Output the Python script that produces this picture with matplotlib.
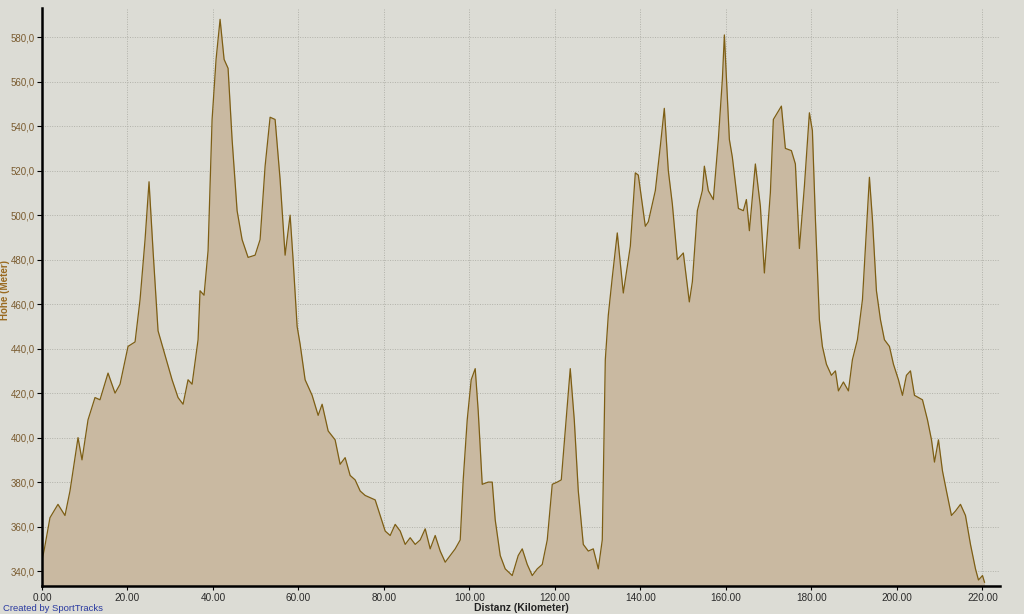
import matplotlib
matplotlib.use("Agg")
import matplotlib.pyplot as plt
from matplotlib.ticker import FuncFormatter

# Höhenprofil: Distanz (km) / Höhe (m)
distanz = [0.0, 0.47, 1.87, 3.74, 5.38, 6.55, 8.43, 9.36, 10.77, 12.40, 13.57, 15.45, 17.09,
           18.26, 20.13, 21.77, 22.94, 24.11, 25.04, 25.98, 27.15, 28.79, 30.43, 31.83, 33.00,
           34.17, 35.11, 36.51, 36.98, 37.91, 38.85, 39.79, 40.72, 41.66, 42.60, 43.53, 44.47,
           45.64, 46.81, 48.21, 49.85, 51.02, 52.19, 53.36, 54.53, 55.70, 56.87, 58.04, 58.74,
           59.68, 60.38, 61.55, 63.19, 64.60, 65.53, 66.94, 68.57, 69.74, 70.91, 72.08, 73.25,
           74.43, 75.60, 76.77, 77.94, 79.11, 80.28, 81.45, 82.62, 83.79, 84.96, 86.13, 87.30,
           88.47, 89.64, 90.81, 91.98, 93.15, 94.32, 95.49, 96.66, 97.83, 98.53, 99.47, 100.40,
           101.34, 102.04, 102.98, 104.38, 105.32, 106.02, 107.19, 108.36, 110.00, 111.40,
           112.34, 113.51, 114.68, 115.85, 117.02, 118.19, 119.36, 120.53, 121.47, 122.40,
           123.57, 124.51, 125.45, 126.62, 127.79, 128.96, 130.13, 131.06, 131.77, 132.47,
           133.40, 134.57, 135.98, 137.62, 138.79, 139.49, 141.13, 141.83, 143.47, 144.64,
           145.57, 146.51, 147.45, 148.62, 150.02, 151.42, 152.13, 153.30, 154.47, 154.94,
           155.87, 157.04, 158.21, 159.15, 159.62, 160.79, 161.49, 162.90, 164.06, 164.77,
           165.47, 166.87, 168.04, 168.98, 170.38, 171.08, 172.96, 173.89, 175.30, 176.23,
           177.17, 178.34, 179.51, 180.21, 180.92, 181.85, 182.55, 183.49,
           184.66, 185.60, 186.30, 187.47, 188.64, 189.57, 190.74, 191.92, 192.85, 193.55,
           194.26, 195.19, 196.13, 197.06, 198.23, 199.17, 200.34, 201.28, 202.21, 203.15,
           204.09, 205.02, 205.96, 207.13, 208.07, 208.77, 209.70, 210.64, 211.57, 212.74,
           213.68, 214.85, 216.02, 217.19, 218.36, 219.06, 220.00, 220.47]
hoehe = [345, 349, 364, 370, 365, 376, 400, 390, 408, 418, 417, 429, 420,
         424, 441, 443, 462, 489, 515, 484, 448, 437, 426, 418, 415,
         426, 424, 444, 466, 464, 484, 543, 570, 588, 570, 566, 534,
         502, 489, 481, 482, 489, 522, 544, 543, 516, 482, 500, 480,
         450, 442, 426, 419, 410, 415, 403, 399, 388, 391, 383, 381,
         376, 374, 373, 372, 365, 358, 356, 361, 358, 352, 355, 352,
         354, 359, 350, 356, 349, 344, 347, 350, 354, 381, 408, 426,
         431, 412, 379, 380, 380, 363, 347, 341, 338, 347,
         350, 343, 338, 341, 343, 354, 379, 380, 381, 403,
         431, 408, 376, 352, 349, 350, 341, 354, 435, 455,
         472, 492, 465, 486, 519, 518, 495, 497, 511, 531,
         548, 520, 505, 480, 483, 461, 470, 502, 511, 522,
         511, 507, 534, 561, 581, 534, 526, 503, 502, 507,
         493, 523, 504, 474, 510, 543, 549, 530, 529, 523,
         485, 513, 546, 538, 498, 453, 441, 433,
         428, 430, 421, 425, 421, 435, 444, 462, 493, 517,
         498, 466, 453, 444, 441, 433, 426, 419, 428, 430,
         419, 418, 417, 408, 399, 389, 399, 385, 376, 365,
         367, 370, 365, 352, 341, 336, 338, 335]

x_ticks = [0, 20, 40, 60, 80, 100, 120, 140, 160, 180, 200, 220]
y_ticks = [340, 360, 380, 400, 420, 440, 460, 480, 500, 520, 540, 560, 580]

bg = "#dcdcd5"
fill_col = "#c9b9a1"
line_col = "#7d5e14"
label_col = "#7a5c30"
font = "Liberation Sans"

fig = plt.figure(figsize=(10.24, 6.14), dpi=100, facecolor=bg)
ax = fig.add_axes([0.041, 0.0456, 0.936, 0.941], facecolor=bg)

y_min = 333.3
ax.fill_between(distanz, hoehe, y_min, color=fill_col, lw=0, zorder=2)
ax.plot(distanz, hoehe, color=line_col, lw=0.9, zorder=3)

ax.set_xlim(0, 224.2)
ax.set_ylim(y_min, 593)
ax.set_xticks(x_ticks)
ax.set_yticks(y_ticks)
ax.xaxis.set_major_formatter(FuncFormatter(lambda v, p: f"{v:.2f}"))
ax.yaxis.set_major_formatter(FuncFormatter(lambda v, p: f"{v:.1f}".replace(".", ",")))

ax.grid(True, color="#b2b2aa", linestyle=(0, (1, 1.5)), linewidth=0.7, zorder=1)
for s in ["top", "right"]:
    ax.spines[s].set_visible(False)
for s in ["left", "bottom"]:
    ax.spines[s].set_linewidth(1.8)
    ax.spines[s].set_zorder(4)

ax.tick_params(axis="y", labelsize=7, labelcolor=label_col, length=3.5, width=0.8, pad=1.5)
ax.tick_params(axis="x", labelsize=7.2, labelcolor="#2a2a2a", length=3, width=0.8, pad=2)
for lbl in ax.get_xticklabels() + ax.get_yticklabels():
    lbl.set_family(font)

fig.text(0.509, 0.002, "Distanz (Kilometer)", ha="center", va="bottom", family=font,
         fontsize=7.5, fontweight="bold", color="#222222")
fig.text(0.005, 0.528, "Höhe (Meter)", ha="center", va="center", rotation=90, family=font,
         fontsize=7, fontweight="bold", color="#9a6a20")
fig.text(0.003, 0.002, "Created by SportTracks", ha="left", va="bottom", family=font,
         fontsize=6.8, color="#2a3aa0")

fig.savefig("out.png", dpi=100, facecolor=bg)
